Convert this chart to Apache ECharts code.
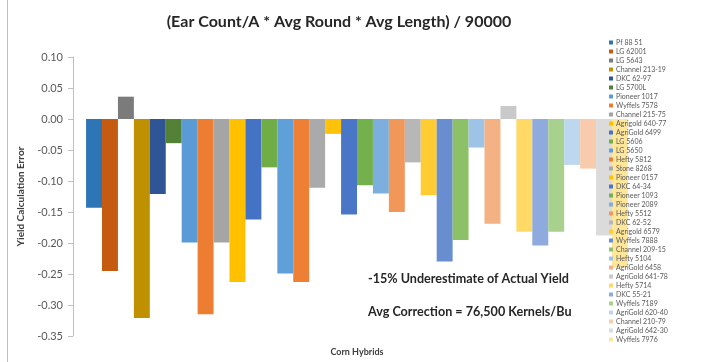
<!DOCTYPE html>
<html>
<head>
<meta charset="utf-8">
<script src="https://cdn.jsdelivr.net/npm/echarts@6/dist/echarts.min.js"></script>
<style>
html,body{margin:0;padding:0;background:#fff;}
#c{width:714px;height:362px;}
</style>
</head>
<body>
<div id="c"></div>
<script>
var hybrids = ['Pf 88 51','LG 62001','LG 5643','Channel 213-19','DKC 62-97','LG 5700L','Pioneer 1017','Wyffels 7578','Channel 215-75','Agrigold 640-77','AgriGold 6499','LG 5606','LG 5650','Hefty 5812','Stone 8268','Pioneer 0157','DKC 64-34','Pioneer 1093','Pioneer 2089','Hefty 5512','DKC 62-52','Agrigold 6579','Wyffels 7888','Channel 209-15','Hefty 5104','AgriGold 6458','AgriGold 641-78','Hefty 5714','DKC 55-21','Wyffels 7189','AgriGold 620-40','Channel 210-79','AgriGold 642-30','Wyffels 7976'];
var errors = [-0.143,-0.245,0.036,-0.321,-0.121,-0.039,-0.199,-0.315,-0.199,-0.263,-0.162,-0.078,-0.249,-0.263,-0.111,-0.024,-0.154,-0.107,-0.120,-0.150,-0.070,-0.123,-0.230,-0.195,-0.046,-0.169,0.021,-0.182,-0.204,-0.182,-0.074,-0.080,-0.188,-0.240];
var colors = ['#2E75B6','#C55A11','#7B7B7B','#BF9000','#2F5597','#538135','#5B9BD5','#ED7D31','#A5A5A5','#FFC000','#4472C4','#70AD47','#5FA0D9','#EE8036','#AAAAAA','#FFC20A','#4A76C8','#74B04C','#7CAFDD','#F1975A','#B7B7B7','#FFCD33','#698ED0','#8CC168','#9DC3E6','#F4B183','#C9C9C9','#FFD966','#8FAADC','#A9D18E','#BDD7EE','#F8CBAD','#DBDBDB','#FFE699'];
var category = ['Corn Hybrids'];
var yTicks = {min:-0.35, max:0.10, interval:0.05};

var FONT = 'Lato';
var series = hybrids.map(function(n,i){
  return {name:n, type:'bar', data:[errors[i]], itemStyle:{color:colors[i]},
    barGap:'0%', barCategoryGap:'4.6%', emphasis:{disabled:true}};
});
var chart = echarts.init(document.getElementById('c'));
chart.setOption({
  animation:false,
  textStyle:{fontFamily:FONT},
  title:{text:'(Ear Count/A * Avg Round * Avg Length) / 90000', left:334, top:9, textAlign:'center',
    textStyle:{fontFamily:FONT, fontSize:16, fontWeight:'bold', color:'#262626'}},
  grid:{left:73, right:73, top:57, bottom:24, containLabel:false},
  legend:{orient:'vertical', left:604, top:34, itemWidth:4, itemHeight:4, itemGap:2,
    icon:'rect', data:hybrids,
    textStyle:{fontFamily:FONT, fontSize:7, lineHeight:7, color:'#595959', padding:[0,0,0,-2]}},
  xAxis:{type:'category', data:category, name:'Corn Hybrids', nameLocation:'middle', nameGap:12,
    nameTextStyle:{fontFamily:FONT, fontSize:9, fontWeight:'bold', color:'#404040'},
    axisLine:{show:false}, axisTick:{show:false}, axisLabel:{show:false}},
  yAxis:{type:'value', min:yTicks.min, max:yTicks.max, interval:yTicks.interval,
    name:'Yield Calculation Error', nameLocation:'middle', nameGap:44, nameRotate:90,
    nameTextStyle:{fontFamily:FONT, fontSize:10, fontWeight:'bold', color:'#404040'},
    axisLine:{show:true, lineStyle:{color:'#BFBFBF'}},
    axisTick:{show:true, length:5, lineStyle:{color:'#BFBFBF'}},
    splitLine:{show:false},
    axisLabel:{margin:10, fontFamily:FONT, fontSize:11, color:'#595959',
      formatter:function(v){return v.toFixed(2);}}},
  graphic:[
    {type:'line', shape:{x1:7.5,y1:0,x2:7.5,y2:362}, style:{stroke:'#BFBFBF', lineWidth:1}, silent:true},
    {type:'text', left:368, top:272, style:{text:'-15% Underestimate of Actual Yield', fontFamily:FONT, fontSize:12.6, fontWeight:'bold', fill:'#262626'}},
    {type:'text', left:368, top:305, style:{text:'Avg Correction = 76,500 Kernels/Bu', fontFamily:FONT, fontSize:12.6, fontWeight:'bold', fill:'#262626'}}
  ],
  series:series
});
</script>
</body>
</html>
